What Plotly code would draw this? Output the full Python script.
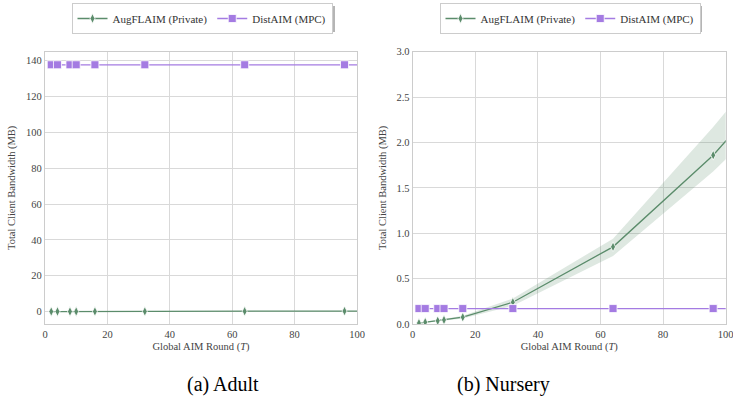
import plotly.graph_objects as go

rounds = [2, 4, 8, 10, 16, 32, 64, 96, 128]

adult_aug = [0.05, 0.06, 0.07, 0.08, 0.1, 0.12, 0.2, 0.3, 0.4]
adult_dist = [137.7] * 9

nursery_aug = [0.01, 0.02, 0.035, 0.045, 0.075, 0.24, 0.85, 1.86, 3.1]
nursery_aug_lo = [0.005, 0.012, 0.025, 0.035, 0.06, 0.20, 0.75, 1.68, 2.75]
nursery_aug_hi = [0.015, 0.028, 0.045, 0.055, 0.09, 0.28, 0.94, 2.17, 3.5]
nursery_dist = [0.17] * 9

GREEN = "#5b8c6b"
PURPLE = "#a47be2"
FONT = "Liberation Serif"

fig = go.Figure()

def add_panel(xa, ya, aug, dist, legend, lo=None, hi=None):
    if lo is not None:
        fig.add_trace(go.Scatter(x=rounds, y=hi, mode="lines", line=dict(width=0),
                                 showlegend=False, hoverinfo="skip", xaxis=xa, yaxis=ya))
        fig.add_trace(go.Scatter(x=rounds, y=lo, mode="lines", line=dict(width=0),
                                 fill="tonexty", fillcolor="rgba(91,140,107,0.2)",
                                 showlegend=False, hoverinfo="skip", xaxis=xa, yaxis=ya))
    fig.add_trace(go.Scatter(x=rounds, y=aug, mode="lines+markers", name="AugFLAIM (Private)",
                             line=dict(color=GREEN, width=1.3),
                             marker=dict(symbol="diamond-tall", size=7, color=GREEN,
                                         line=dict(color="white", width=0.8)),
                             xaxis=xa, yaxis=ya, legend=legend, cliponaxis=True))
    fig.add_trace(go.Scatter(x=rounds, y=dist, mode="lines+markers", name="DistAIM (MPC)",
                             line=dict(color=PURPLE, width=1.3),
                             marker=dict(symbol="square", size=8, color=PURPLE,
                                         line=dict(color="white", width=0.8)),
                             xaxis=xa, yaxis=ya, legend=legend, cliponaxis=True))

add_panel("x", "y", adult_aug, adult_dist, "legend")
add_panel("x2", "y2", nursery_aug, nursery_dist, "legend2", nursery_aug_lo, nursery_aug_hi)

W, H = 733, 397
tickfont = dict(family=FONT, size=10.5, color="#444")
titlefont = dict(family=FONT, size=10.5, color="#444")
axis_common = dict(showgrid=True, gridcolor="#d9d9d9", gridwidth=1, showline=True,
                   linecolor="#cccccc", linewidth=1.2, mirror=True, zeroline=False,
                   ticks="", tickfont=tickfont, automargin=False, ticklabeloverflow="allow")
leg = dict(orientation="h", xanchor="center", yanchor="top", y=1 - 3 / H,
           bordercolor="#cccccc", borderwidth=1, bgcolor="white", traceorder="normal",
           font=dict(family=FONT, size=11, color="#333"))


def px_rect(x0, y0, x1, y1):
    return dict(type="rect", xref="paper", yref="paper", x0=x0 / W, x1=x1 / W,
                y0=1 - y1 / H, y1=1 - y0 / H, fillcolor="#b5b5b5",
                line=dict(width=0), layer="above")


fig.update_layout(
    width=W, height=H, margin=dict(l=0, r=0, t=0, b=0, autoexpand=False),
    plot_bgcolor="white", paper_bgcolor="white",
    font=dict(family=FONT, color="#333"),
    xaxis=dict(domain=[45 / W, 357 / W], range=[0, 100], tickvals=[0, 20, 40, 60, 80, 100],
               title=dict(text="Global AIM Round (<i>T</i>)", font=titlefont, standoff=3),
               anchor="y", **axis_common),
    yaxis=dict(domain=[1 - 324 / H, 1 - 51.7 / H], range=[-6.9, 145],
               tickvals=[0, 20, 40, 60, 80, 100, 120, 140],
               title=dict(text="Total Client Bandwidth (MB)", font=titlefont, standoff=8),
               anchor="x", **axis_common),
    xaxis2=dict(domain=[412.7 / W, 725.7 / W], range=[0, 100], tickvals=[0, 20, 40, 60, 80, 100],
                title=dict(text="Global AIM Round (<i>T</i>)", font=titlefont, standoff=3),
                anchor="y2", **axis_common),
    yaxis2=dict(domain=[1 - 324 / H, 1 - 51.7 / H], range=[0, 3],
                tickvals=[0, 0.5, 1, 1.5, 2, 2.5, 3], tickformat=".1f",
                title=dict(text="Total Client Bandwidth (MB)", font=titlefont, standoff=7),
                anchor="x2", **axis_common),
    legend=dict(x=202 / W, **leg),
    legend2=dict(x=570 / W, **leg),
    shapes=[px_rect(74, 6, 335, 32), px_rect(442, 6, 702, 32)],
    annotations=[
        dict(text="(a) Adult", x=185 / W, y=1 - 384 / H, xref="paper", yref="paper",
             yanchor="middle", showarrow=False, font=dict(family=FONT, size=20, color="black")),
        dict(text="(b) Nursery", x=552 / W, y=1 - 384 / H, xref="paper", yref="paper",
             yanchor="middle", showarrow=False, font=dict(family=FONT, size=20, color="black")),
    ],
)

fig.write_html("out.html", config={"displayModeBar": False},
               post_script="document.body.style.margin='0';document.body.style.overflow='hidden';")
